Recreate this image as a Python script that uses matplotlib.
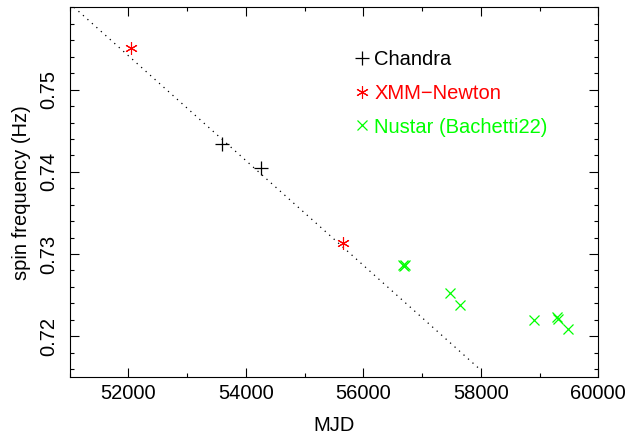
import matplotlib
matplotlib.use("Agg")
import matplotlib.pyplot as plt
import numpy as np
from matplotlib.ticker import MultipleLocator

plt.rcParams["font.family"] = ["Liberation Sans", "DejaVu Sans"]

# observations: MJD and spin frequency (Hz)
chandra_mjd = [53588, 54257]
chandra_freq = [0.74336, 0.74044]

xmm_mjd = [52041, 55657]
xmm_freq = [0.75504, 0.73139]

nustar_mjd = [56675, 56695, 56715, 57483, 57641, 58905, 59295, 59315, 59490]
nustar_freq = [0.72870, 0.72855, 0.72862, 0.72523, 0.72384, 0.72198, 0.72230, 0.72215, 0.72085]

# linear spin-up trend
trend_t0 = 51000
trend_f0 = 0.76052
trend_fdot = -6.377e-6
trend_range = [51000, 58000]

fs = 14.5

fig = plt.figure(figsize=(6.39, 4.41), dpi=100)
ax = fig.add_axes([0.1088, 0.1444, 0.8275, 0.8386])

tt = np.linspace(trend_range[0], trend_range[1], 200)
ax.plot(tt, trend_f0 + trend_fdot * (tt - trend_t0), color="black",
        lw=0.9, linestyle=(0, (1, 3.8)))

ax.plot(chandra_mjd, chandra_freq, linestyle="none", marker="+", ms=9.5,
        mew=0.9, color="black", label="Chandra")
ax.plot(xmm_mjd, xmm_freq, linestyle="none", marker=(6, 2, 0), ms=9,
        mew=0.8, color="#ff0000", label="XMM\u2212Newton")
ax.plot(nustar_mjd, nustar_freq, linestyle="none", marker="x", ms=7.5,
        mew=0.9, color="#00ff00", label="Nustar (Bachetti22)")

ax.set_xlim(51000, 60000)
ax.set_ylim(0.715, 0.76)
ax.xaxis.set_major_locator(MultipleLocator(2000))
ax.xaxis.set_minor_locator(MultipleLocator(1000))
ax.yaxis.set_major_locator(MultipleLocator(0.01))
ax.yaxis.set_minor_locator(MultipleLocator(0.002))
ax.set_yticks([0.72, 0.73, 0.74, 0.75])

ax.tick_params(which="both", direction="in", top=True, right=True,
               width=0.8, labelsize=fs)
ax.tick_params(which="major", length=6.3)
ax.tick_params(which="minor", length=3.2)
ax.tick_params(axis="x", pad=5)
ax.tick_params(axis="y", pad=8)
for lab in ax.get_yticklabels():
    lab.set_rotation(90)
    lab.set_va("center")
for sp in ax.spines.values():
    sp.set_linewidth(0.8)

ax.set_xlabel("MJD", fontsize=fs)
ax.set_ylabel("spin frequency (Hz)", fontsize=fs)
ax.xaxis.set_label_coords(0.5, -0.105)
ax.yaxis.set_label_coords(-0.072, 0.5)

ax.legend(loc="upper left", bbox_to_anchor=(0.5165, 0.912), frameon=False,
          fontsize=fs, handlelength=0.9, handletextpad=0.17,
          labelspacing=0.73, borderpad=0, labelcolor="linecolor")

fig.savefig("out.png", dpi=100)
